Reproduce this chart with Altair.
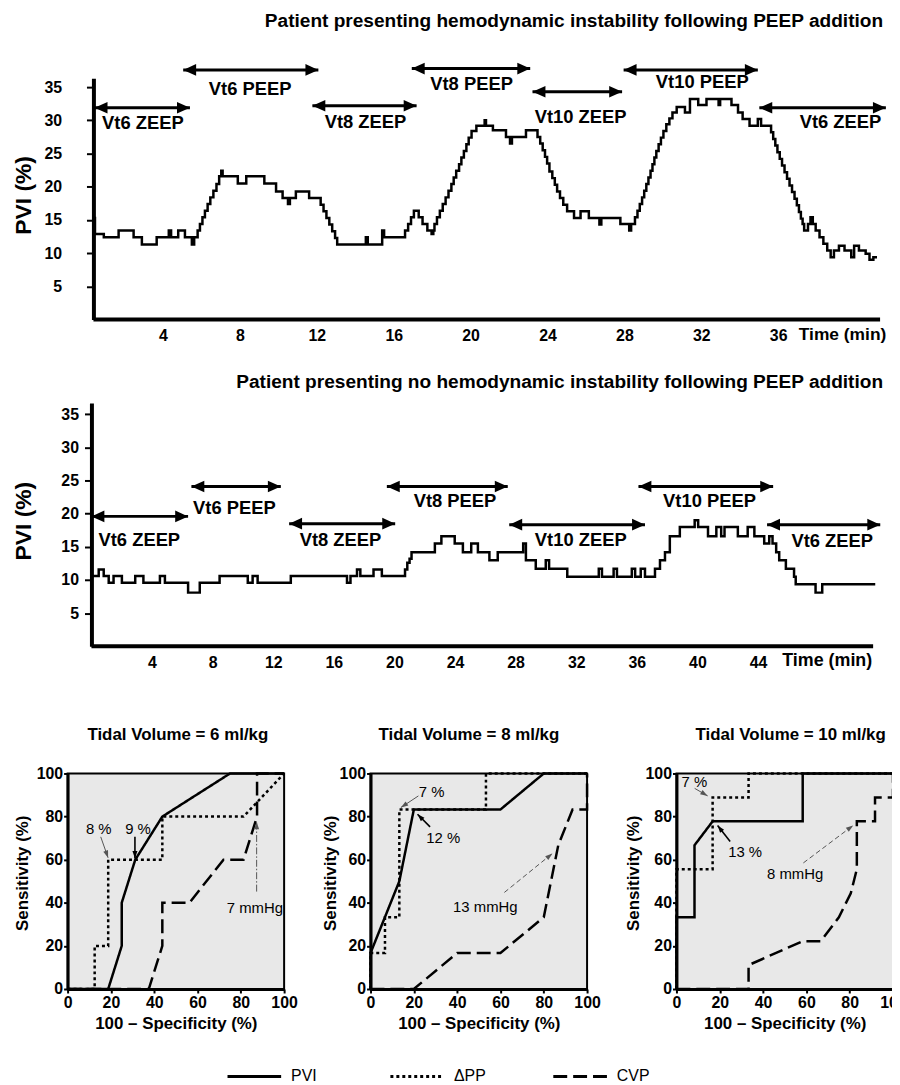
import math
import altair as alt
import pandas as pd

FONT = "Liberation Sans"

top_time = [0.40, 0.46, 0.92, 1.69, 2.47, 2.90, 3.67, 4.30, 4.42, 4.79, 5.14, 5.50, 5.62,
            5.80, 5.92, 6.05, 6.18, 6.32, 6.46, 6.62, 6.78, 6.92, 7.03, 7.10, 7.89, 8.33,
            9.27, 9.88, 10.22, 10.50, 10.60, 10.91, 11.60, 12.20, 12.35, 12.50, 12.65, 12.80,
            12.95, 13.06, 14.55, 14.65, 15.40, 15.50, 16.59, 16.75, 16.90, 17.05, 17.30, 17.50,
            17.75, 17.97, 18.06, 18.12, 18.25, 18.40, 18.55, 18.70, 18.85, 19.00, 19.12, 19.25,
            19.40, 19.52, 19.65, 19.78, 19.90, 20.05, 20.30, 20.73, 20.80, 21.16, 21.84, 22.05,
            22.15, 22.88, 23.48, 23.62, 23.75, 23.87, 23.98, 24.10, 24.25, 24.38, 24.50, 24.65,
            24.82, 25.02, 25.38, 25.72, 26.15, 26.70, 26.80, 27.79, 28.25, 28.35, 28.55, 28.68,
            28.80, 28.92, 29.03, 29.14, 29.25, 29.36, 29.46, 29.56, 29.66, 29.78, 29.90, 30.03,
            30.18, 30.34, 30.50, 30.72, 31.15, 31.41, 31.84, 32.27, 32.90, 32.98, 33.57, 33.91,
            34.15, 34.51, 34.94, 35.11, 35.63, 35.74, 35.85, 35.96, 36.08, 36.20, 36.33, 36.46,
            36.59, 36.72, 36.85, 36.97, 37.08, 37.18, 37.27, 37.35, 37.55, 37.68, 37.80, 37.95,
            38.15, 38.35, 38.55, 38.73, 38.90, 39.16, 39.45, 39.80, 39.95, 40.20, 40.55, 40.75,
            40.95, 41.14]
top_pvi = [15.3, 12.9, 12.4, 13.4, 12.4, 11.3, 12.4, 13.4, 12.4, 13.4, 12.4, 11.3, 12.4,
           13.4, 14.4, 15.4, 16.4, 17.4, 18.4, 19.4, 20.4, 21.6, 22.4, 21.6, 20.5, 21.6,
           20.5, 19.3, 18.3, 17.4, 18.3, 19.3, 18.3, 17.3, 16.3, 15.3, 14.3, 13.3,
           12.3, 11.3, 12.4, 11.3, 13.4, 12.4, 13.4, 14.4, 15.4, 16.4, 15.4, 14.4,
           13.4, 12.9, 13.4, 14.4, 15.4, 16.4, 17.4, 18.4, 19.4, 20.4, 21.4, 22.4,
           23.4, 24.4, 25.4, 26.4, 27.4, 28.4, 29.2, 30.0, 29.2, 28.5, 27.5, 26.5,
           27.5, 28.5, 27.5, 26.5, 25.5, 24.5, 23.5, 22.3, 21.3, 20.3, 19.3, 18.3,
           17.3, 16.3, 15.3, 16.3, 15.3, 14.3, 15.3, 14.4, 13.4, 14.4, 15.4, 16.4,
           17.4, 18.4, 19.4, 20.4, 21.4, 22.4, 23.4, 24.4, 25.4, 26.4, 27.4, 28.4,
           29.4, 30.3, 31.2, 32.0, 31.2, 33.2, 32.3, 33.2, 32.3, 33.2, 32.3, 31.2,
           30.2, 29.2, 30.2, 29.2, 28.2, 27.2, 26.2, 25.2, 24.2, 23.2, 22.2, 21.2,
           20.2, 19.2, 18.2, 17.2, 16.2, 15.2, 14.4, 13.4, 14.4, 15.4, 14.4, 13.4,
           12.4, 11.4, 10.4, 9.4, 10.4, 11.1, 10.4, 9.4, 11.1, 10.4, 9.9, 9.0,
           9.4, 9.4]

phase_names = ["Vt6 ZEEP", "Vt6 PEEP", "Vt8 ZEEP", "Vt8 PEEP", "Vt10 ZEEP", "Vt10 PEEP", "Vt6 ZEEP"]
top_phase_start = [0.44, 5.05, 11.77, 16.94, 23.22, 27.96, 35.02]
top_phase_end = [5.40, 12.08, 17.19, 23.10, 27.88, 34.94, 41.60]
top_arrow_level = [31.9, 37.6, 32.2, 37.8, 34.3, 37.6, 31.9]
top_label_time = [2.95, 8.53, 14.53, 20.05, 25.72, 32.05, 39.24]
top_label_level = [29.6, 34.7, 29.8, 35.5, 30.5, 35.8, 29.8]

mid_time = [0.00, 0.48, 0.81, 1.14, 1.46, 2.01, 2.89, 3.43, 4.52, 4.85, 6.38, 7.15, 8.46,
            10.32, 10.64, 10.97, 13.16, 16.87, 17.10, 17.53, 17.75, 18.62, 19.17, 20.70,
            20.85, 21.00, 21.13, 22.67, 23.10, 23.98, 24.52, 25.07, 25.51, 26.27, 26.82,
            28.50, 28.68, 29.33, 29.99, 30.21, 31.41, 33.49, 33.70, 34.47, 34.69, 35.67,
            35.89, 36.26, 36.54, 37.20, 37.53, 37.86, 38.18, 38.84, 39.82, 40.05, 40.70,
            41.25, 41.57, 41.79, 42.67, 43.32, 43.76, 44.41, 44.74, 44.96, 45.20, 45.40,
            45.84, 46.38, 46.49, 47.80, 48.24, 51.74]
mid_pvi = [10.6, 11.6, 10.6, 9.6, 10.6, 9.6, 10.6, 9.6, 10.6, 9.6, 8.1, 9.6, 10.6,
           9.6, 10.6, 9.6, 10.6, 9.6, 10.6, 11.6, 10.6, 11.6, 10.6, 11.6,
           12.6, 13.2, 14.2, 15.5, 16.6, 15.5, 14.2, 15.5, 14.2, 13.0, 14.2,
           15.5, 13.0, 11.7, 13.0, 11.7, 10.5, 11.7, 10.5, 11.7, 10.5, 11.7,
           10.5, 11.7, 10.5, 11.7, 13.0, 14.2, 16.6, 18.0, 19.0, 18.0, 16.6,
           18.0, 16.6, 18.0, 16.6, 18.0, 16.6, 15.5, 16.6, 15.5, 14.2, 13.0,
           11.7, 10.5, 9.35, 8.1, 9.35, 9.35]

mid_phase_start = [0.00, 6.60, 13.05, 19.50, 27.58, 36.11, 44.60]
mid_phase_end = [6.38, 12.50, 20.05, 27.48, 36.54, 45.00, 52.07]
mid_arrow_level = [19.6, 24.1, 18.5, 24.1, 18.35, 24.1, 18.35]
mid_label_time = [3.16, 9.44, 16.44, 24.0, 32.3, 40.8, 48.9]
mid_label_level = [16.1, 20.85, 16.0, 21.85, 16.1, 21.85, 15.85]

tidal_volumes = ["6", "8", "10"]
tests = ["PVI", "ΔPP", "CVP"]
dash_patterns = [[1, 0], [3, 3], [14, 6]]

pvi6_fpr = [0, 18.75, 25, 25, 31.25, 43.75, 75, 100]
pvi6_sens = [0, 0, 20, 40, 60, 80, 100, 100]
dpp6_fpr = [0, 12.5, 12.5, 18.75, 18.75, 43.75, 43.75, 81.25, 100]
dpp6_sens = [0, 0, 20, 20, 60, 60, 80, 80, 100]
cvp6_fpr = [0, 37.5, 43.75, 43.75, 56.25, 72, 81.25, 87.5, 87.5, 100]
cvp6_sens = [0, 0, 20, 40, 40, 60, 60, 80, 100, 100]

pvi8_fpr = [0, 0, 13.3, 20, 60, 80, 100]
pvi8_sens = [0, 16.7, 50, 83.3, 83.3, 100, 100]
dpp8_fpr = [0, 0, 6.67, 6.67, 13.3, 13.3, 53.3, 53.3, 100]
dpp8_sens = [0, 16.7, 16.7, 33.3, 33.3, 83.3, 83.3, 100, 100]
cvp8_fpr = [0, 20, 40, 60, 80, 86.7, 93.3, 100, 100]
cvp8_sens = [0, 0, 16.7, 16.7, 33.3, 66.7, 83.3, 83.3, 100]

pvi10_fpr = [0, 0, 8.33, 8.33, 16.7, 58.3, 58.3, 100]
pvi10_sens = [0, 33.3, 33.3, 66.7, 77.8, 77.8, 100, 100]
dpp10_fpr = [0, 0, 16.7, 16.7, 33.3, 33.3, 100]
dpp10_sens = [0, 55.6, 55.6, 88.9, 88.9, 100, 100]
cvp10_fpr = [0, 33.3, 33.3, 58.3, 66.7, 75, 80.5, 83.3, 83.3, 91.7, 91.7, 100, 100]
cvp10_sens = [0, 0, 11.1, 22.2, 22.2, 33.3, 44.4, 55.6, 77.8, 77.8, 88.9, 88.9, 100]

ann_vt = ["6", "6", "6", "8", "8", "8", "10", "10", "10"]
ann_text = ["8 %", "9 %", "7 mmHg", "7 %", "12 %", "13 mmHg", "7 %", "13 %", "8 mmHg"]
ann_text_fpr = [14.4, 32.5, 86.5, 28.2, 33.6, 53.0, 8.3, 31.7, 54.8]
ann_text_sens = [74.4, 74.4, 37.6, 91.6, 70.1, 37.9, 96.2, 63.4, 53.4]
ann_style = ["thin", "bold", "dashdot", "thin", "bold", "dash", "thin", "bold", "dash"]
ann_from_fpr = [15.3, 31.1, 87.3, 22.1, 27.5, 61.8, 8.4, 24.8, 58.6]
ann_from_sens = [70.6, 70.6, 45.2, 89.6, 75.2, 44.8, 93.1, 68.4, 58.5]
ann_to_fpr = [18.7, 31.1, 87.3, 14.0, 21.7, 84.0, 14.4, 19.0, 81.6]
ann_to_sens = [60.9, 60.6, 77.5, 84.2, 81.1, 62.9, 89.6, 75.9, 75.9]

top_df = pd.DataFrame({"t": top_time, "v": top_pvi})
mid_df = pd.DataFrame({"t": mid_time, "v": mid_pvi})
top_ph = pd.DataFrame({"name": phase_names, "t": top_phase_start, "t2": top_phase_end,
                       "v": top_arrow_level, "lt": top_label_time, "lv": top_label_level})
mid_ph = pd.DataFrame({"name": phase_names, "t": mid_phase_start, "t2": mid_phase_end,
                       "v": mid_arrow_level, "lt": mid_label_time, "lv": mid_label_level})

curves = {
    ("6", "PVI"): (pvi6_fpr, pvi6_sens), ("6", "ΔPP"): (dpp6_fpr, dpp6_sens), ("6", "CVP"): (cvp6_fpr, cvp6_sens),
    ("8", "PVI"): (pvi8_fpr, pvi8_sens), ("8", "ΔPP"): (dpp8_fpr, dpp8_sens), ("8", "CVP"): (cvp8_fpr, cvp8_sens),
    ("10", "PVI"): (pvi10_fpr, pvi10_sens), ("10", "ΔPP"): (dpp10_fpr, dpp10_sens), ("10", "CVP"): (cvp10_fpr, cvp10_sens),
}
rows = []
for (vt, test), (xs, ys) in curves.items():
    for i, (a, b) in enumerate(zip(xs, ys)):
        rows.append({"vt": vt, "test": test, "i": i, "fpr": a, "sens": b})
roc_df = pd.DataFrame(rows)

ann_df = pd.DataFrame({"vt": ann_vt, "label": ann_text, "fpr": ann_from_fpr, "sens": ann_from_sens,
                       "fpr2": ann_to_fpr, "sens2": ann_to_sens, "style": ann_style,
                       "tx": ann_text_fpr, "ty": ann_text_sens})
ann_df["angle"] = [(math.degrees(math.atan2(x2 - x1, y2 - y1)) + 360) % 360
                   for x1, y1, x2, y2 in zip(ann_from_fpr, ann_from_sens, ann_to_fpr, ann_to_sens)]

LEFT_HEAD = "M0,0L2,-0.9L2,0.9Z"
RIGHT_HEAD = "M0,0L-2,-0.9L-2,0.9Z"
UP_HEAD = "M0,0L-0.75,2.2L0.75,2.2Z"
LINE_SYMBOL = "M-1,0L1,0"

dash_scale = alt.Scale(domain=tests, range=dash_patterns)


def time_panel(trace, phases, xdomain, axis_start, xend, ydomain, xticks, width, height, yoffset,
               title, title_dx, title_offset, ylab_pad, caption_t, caption_v, caption_size, title_x):
    xs = alt.Scale(domain=xdomain, nice=False, zero=False)
    ys = alt.Scale(domain=ydomain, nice=False, zero=False)
    xax = alt.Axis(values=xticks, title=None, tickSize=0, labelPadding=8, labelFontSize=16,
                   labelFontWeight="bold", domain=False, grid=False, labelFlush=False)
    yax = alt.Axis(values=[5, 10, 15, 20, 25, 30, 35], title="PVI (%)", titleFontSize=23,
                   titleFontWeight="bold", titleX=title_x, titleY=height / 2 - 4, titleBaseline="middle",
                   tickSize=7, tickWidth=2, labelPadding=ylab_pad, labelFontSize=16, offset=yoffset,
                   labelFontWeight="bold", domainWidth=4, grid=False)

    def X(f):
        return alt.X(f, type="quantitative", scale=xs, axis=xax)

    def Y(f):
        return alt.Y(f, type="quantitative", scale=ys, axis=yax)

    baseline = alt.Chart(pd.DataFrame({"t": [axis_start], "t2": [xend], "v": [0]})).mark_rule(
        color="black", strokeWidth=4).encode(x=X("t"), x2="t2", y=Y("v"))
    line = alt.Chart(trace).mark_line(interpolate="step-after", color="black", strokeWidth=2.5).encode(
        x=X("t"), y=Y("v"))
    rules = alt.Chart(phases).mark_rule(color="black", strokeWidth=3).encode(x=X("t"), x2="t2", y=Y("v"))
    lh = alt.Chart(phases).mark_point(shape=LEFT_HEAD, filled=True, size=169, color="black", opacity=1).encode(
        x=X("t"), y=Y("v"))
    rh = alt.Chart(phases).mark_point(shape=RIGHT_HEAD, filled=True, size=169, color="black", opacity=1).encode(
        x=X("t2"), y=Y("v"))
    labels = alt.Chart(phases).mark_text(font=FONT, fontSize=18.5, fontWeight="bold", color="black").encode(
        x=X("lt"), y=Y("lv"), text="name:N")
    cap = alt.Chart(pd.DataFrame({"t": [caption_t], "v": [caption_v], "txt": ["Time (min)"]})).mark_text(
        font=FONT, fontSize=caption_size, fontWeight="bold", color="black", align="left",
        baseline="middle").encode(x=X("t"), y=Y("v"), text="txt:N")
    return alt.layer(line, baseline, rules, lh, rh, labels, cap).properties(
        width=width, height=height,
        title=alt.TitleParams(title, anchor="end", frame="group", fontSize=19.2, fontWeight="bold",
                              font=FONT, dx=title_dx, offset=title_offset, color="black"),
        view=alt.ViewBackground(stroke=None))


# plot areas start at the ROC panels' left edge; the PVI axis is shifted right onto the first sample
top = time_panel(top_df, top_ph, [-0.964, 41.3], 0.38, 41.3, [0, 36.35], list(range(4, 40, 4)), 818, 243, -26,
                 "Patient presenting hemodynamic instability following PEEP addition", 3, 32, 25,
                 37.07, -2.4, 17.5, -70)
mid = time_panel(mid_df, mid_ph, [-1.574, 51.6], 0.0, 51.6, [0, 36.7], list(range(4, 48, 4)), 811, 245, -24,
                 "Patient presenting no hemodynamic instability following PEEP addition", 10, 11, 6,
                 45.6, -2.25, 18, -68)


def roc_panel(vt, title_x, title_dx):
    xs = alt.Scale(domain=[0, 100], nice=False)
    ys = alt.Scale(domain=[0, 100], nice=False)
    xax = alt.Axis(values=[0, 20, 40, 60, 80, 100], title="100 – Specificity (%)", titleFontSize=17,
                   titleFontWeight="bold", titlePadding=5, tickSize=4, tickWidth=2, labelPadding=2,
                   labelFontSize=16, labelFontWeight="bold", domainWidth=3, grid=False, labelFlush=False)
    yax = alt.Axis(values=[0, 20, 40, 60, 80, 100], title="Sensitivity (%)", titleFontSize=17,
                   titleFontWeight="bold", titleX=title_x, titleY=100, titleBaseline="middle",
                   tickSize=4, tickWidth=2, labelPadding=1, labelFontSize=16, labelFontWeight="bold",
                   domainWidth=3, grid=False)

    def X(f):
        return alt.X(f, type="quantitative", scale=xs, axis=xax)

    def Y(f):
        return alt.Y(f, type="quantitative", scale=ys, axis=yax)

    lines = alt.Chart(roc_df).transform_filter(alt.datum.vt == vt).mark_line(
        color="black", strokeWidth=2.5).encode(
        x=X("fpr"), y=Y("sens"),
        strokeDash=alt.StrokeDash("test:N", scale=dash_scale, legend=None),
        order="i:Q")
    base = alt.Chart(ann_df).transform_filter(alt.datum.vt == vt)
    styles = {"thin": dict(color="#555555", strokeWidth=1),
              "bold": dict(color="black", strokeWidth=1.6),
              "dash": dict(color="#555555", strokeWidth=1, strokeDash=[5, 3]),
              "dashdot": dict(color="#555555", strokeWidth=1, strokeDash=[7, 2, 1.5, 2])}
    layers = [lines]
    for s, kw in styles.items():
        sub = base.transform_filter(alt.datum.style == s)
        layers.append(sub.mark_rule(**kw).encode(x=X("fpr"), y=Y("sens"), x2="fpr2", y2="sens2"))
        layers.append(sub.mark_point(shape=UP_HEAD, filled=True, size=45, color=kw["color"], opacity=1).encode(
            x=X("fpr2"), y=Y("sens2"), angle=alt.Angle("angle:Q", scale=None)))
    layers.append(base.mark_text(font=FONT, fontSize=15, color="black").encode(
        x=X("tx"), y=Y("ty"), text="label:N"))
    return alt.layer(*layers).properties(
        width=218, height=217,
        title=alt.TitleParams(f"Tidal Volume = {vt} ml/kg", anchor="middle", frame="group", fontSize=17,
                              fontWeight="bold", font=FONT, offset=22, dx=title_dx, color="black"),
        view=alt.ViewBackground(fill="#e8e8e8", stroke="black", strokeWidth=2))


rocs = alt.hconcat(roc_panel("6", -45, 2), roc_panel("8", -40, -10), roc_panel("10", -43, 6), spacing=22)

# legend row: line samples drawn with the same strokeDash scale as the ROC curves
leg_df = pd.DataFrame({"test": tests})
leg_x = alt.X("test:N", scale=alt.Scale(domain=tests, range=[188, 516], padding=0), axis=None)
leg_samples = alt.Chart(leg_df).mark_point(shape=LINE_SYMBOL, size=2916, strokeWidth=3, color="black",
                                           opacity=1, filled=False).encode(
    x=leg_x, y=alt.value(10), strokeDash=alt.StrokeDash("test:N", scale=dash_scale, legend=None))
leg_labels = alt.Chart(leg_df).mark_text(font=FONT, fontSize=16, color="black", align="left",
                                         baseline="middle", dx=37).encode(
    x=leg_x, y=alt.value(10), text="test:N")
legend_row = alt.layer(leg_samples, leg_labels).properties(
    width=600, height=20, view=alt.ViewBackground(stroke=None))

upper = alt.vconcat(alt.vconcat(top, mid, spacing=28), rocs, spacing=54)
chart = alt.vconcat(upper, legend_row, spacing=34).resolve_scale(strokeDash="shared").properties(
    padding={"left": 5, "top": 0, "right": -16, "bottom": 0}
).configure(font=FONT, background="white").configure_axis(
    labelColor="black", titleColor="black", domainColor="black", tickColor="black", labelFont=FONT,
    titleFont=FONT)

chart.save("out.html", embed_options={"renderer": "svg", "actions": False})
